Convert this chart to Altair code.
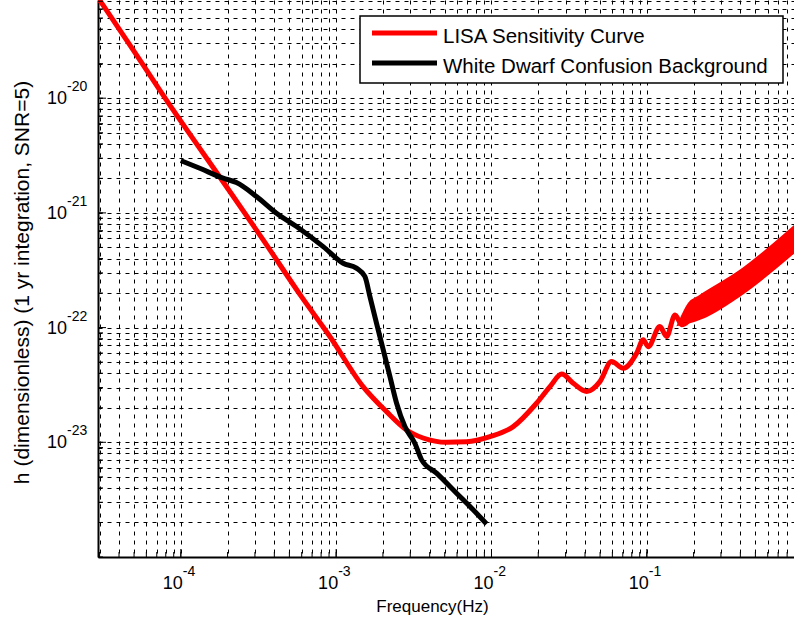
import altair as alt
import pandas as pd

FONT = "Liberation Sans"

# ---- data ----
lisa_f = [2.93e-5, 3.15e-5, 4.93e-5, 8.92e-5, 1.87e-4, 3.39e-4, 5.98e-4, 9.11e-4,
          1.49e-3, 2.11e-3, 2.84e-3, 3.63e-3, 5.14e-3, 6.92e-3, 9.77e-3, 1.38e-2,
          1.95e-2, 2.38e-2, 2.83e-2, 3.36e-2, 4.10e-2, 4.99e-2, 5.93e-2, 7.05e-2,
          8.60e-2, 9.48e-2, 0.102, 0.1214, 0.134, 0.152, 0.1676, 0.22, 0.40, 0.886]
lisa_h = [7.5e-20, 6.5e-20, 2.64e-20, 7.91e-21, 1.87e-21, 5.82e-22, 1.86e-22, 8.36e-23,
          3.06e-23, 1.85e-23, 1.28e-23, 1.09e-23, 1.0e-23, 1.01e-23, 1.12e-23, 1.37e-23,
          2.19e-23, 3.06e-23, 3.93e-23, 3.27e-23, 2.77e-23, 3.38e-23, 5.06e-23, 4.43e-23,
          5.98e-23, 7.82e-23, 6.82e-23, 1.02e-22, 8.36e-23, 1.29e-22, 1.06e-22, 1.5e-22,
          2.45e-22, 5.87e-22]

# envelope of the fast oscillations at high frequency
band_f = [0.165, 0.19, 0.22, 0.40, 0.886]
band_hi = [1.1e-22, 1.6e-22, 1.83e-22, 3.03e-22, 7.33e-22]
band_lo = [1.1e-22, 1.15e-22, 1.23e-22, 1.99e-22, 4.71e-22]

wd_f = [1.0e-4, 1.325e-4, 1.87e-4, 2.28e-4, 3.07e-4, 4.13e-4, 5.56e-4, 8.25e-4,
        1.11e-3, 1.35e-3, 1.53e-3, 1.65e-3, 1.82e-3, 2.01e-3, 2.22e-3, 2.45e-3,
        2.77e-3, 3.21e-3, 3.55e-3, 4.43e-3, 5.96e-3, 7.62e-3, 9.3e-3]
wd_h = [2.86e-21, 2.45e-21, 2.01e-21, 1.84e-21, 1.39e-21, 9.94e-22, 7.60e-22, 5.08e-22,
        3.64e-22, 3.30e-22, 2.79e-22, 1.86e-22, 1.09e-22, 6.4e-23, 3.74e-23, 2.19e-23,
        1.37e-23, 9.82e-24, 7.03e-24, 5.38e-24, 3.6e-24, 2.58e-24, 1.94e-24]

series_names = ["LISA Sensitivity Curve", "White Dwarf Confusion Background"]
series_colors = ["#ff0000", "#000000"]

x_major = [1e-4, 1e-3, 1e-2, 1e-1]
x_major_exp = ["-4", "-3", "-2", "-1"]
y_major = [1e-23, 1e-22, 1e-21, 1e-20]
y_major_exp = ["-23", "-22", "-21", "-20"]

mantissas = [1, 2, 3, 4, 5, 6, 7, 8, 9]
x_decades = [1e-5, 1e-4, 1e-3, 1e-2, 1e-1]
y_decades = [1e-24, 1e-23, 1e-22, 1e-21, 1e-20]
x_dom = [2.93e-5, 0.886]
y_dom = [1e-24, 7.18e-20]
x_grid = [m * d for d in x_decades for m in mantissas if x_dom[0] <= m * d <= x_dom[1]]
y_grid = [m * d for d in y_decades for m in mantissas if y_dom[0] <= m * d <= y_dom[1]]

W, H = 696, 557

xs = alt.Scale(type="log", domain=x_dom, nice=False)
ys = alt.Scale(type="log", domain=y_dom, nice=False)

x_axis = alt.Axis(values=x_grid, grid=True, gridColor="black", gridDash=[4, 5],
                  gridWidth=1, gridOpacity=1, labels=False, ticks=False,
                  domain=True, domainColor="black", domainWidth=2,
                  title="Frequency(Hz)", titleFont=FONT, titleFontSize=17,
                  titleFontWeight="normal", titleColor="black",
                  titleX=334, titleY=54, titleBaseline="alphabetic", titleAlign="center")
y_axis = alt.Axis(values=y_grid, grid=True, gridColor="black", gridDash=[4, 5],
                  gridWidth=1, gridOpacity=1, labels=False, ticks=False,
                  domain=True, domainColor="black", domainWidth=2,
                  title="h (dimensionless) (1 yr integration, SNR=5)", titleFont=FONT,
                  titleFontSize=21, titleFontWeight="normal", titleColor="black",
                  titleX=-70, titleY=282, titleAngle=270, titleBaseline="alphabetic",
                  titleAlign="center")


def X(field):
    return alt.X(field, type="quantitative", scale=xs, axis=x_axis)


def Y(field):
    return alt.Y(field, type="quantitative", scale=ys, axis=y_axis)


lisa_df = pd.DataFrame({"f": lisa_f, "h": lisa_h})
band_df = pd.DataFrame({"f": band_f, "h": band_hi, "lo": band_lo})
wd_df = pd.DataFrame({"f": wd_f, "h": wd_h})

lisa = alt.Chart(lisa_df).mark_line(color=series_colors[0], strokeWidth=5,
                                    interpolate="monotone", clip=True).encode(
    x=X("f"), y=Y("h"))

band = alt.Chart(band_df).mark_area(color=series_colors[0], stroke=series_colors[0],
                                    strokeWidth=5, interpolate="monotone", clip=True).encode(
    x=X("f"), y=Y("h"), y2="lo:Q")

wd = alt.Chart(wd_df).mark_line(color=series_colors[1], strokeWidth=5,
                                interpolate="monotone", clip=True).encode(
    x=X("f"), y=Y("h"))

# inward tick marks
xt_df = pd.DataFrame({"f": x_grid})
yt_df = pd.DataFrame({"h": y_grid})
xmaj_df = pd.DataFrame({"f": x_major})
ymaj_df = pd.DataFrame({"h": y_major})

xticks = alt.Chart(xt_df).mark_rule(color="black", strokeWidth=1).encode(
    x=X("f"), y=alt.value(H), y2=alt.value(H - 5))
xticks_maj = alt.Chart(xmaj_df).mark_rule(color="black", strokeWidth=1).encode(
    x=X("f"), y=alt.value(H), y2=alt.value(H - 8))
yticks = alt.Chart(yt_df).mark_rule(color="black", strokeWidth=1).encode(
    y=Y("h"), x=alt.value(0), x2=alt.value(5))
yticks_maj = alt.Chart(ymaj_df).mark_rule(color="black", strokeWidth=1).encode(
    y=Y("h"), x=alt.value(0), x2=alt.value(8))

# tick labels 10^n
xl_df = pd.DataFrame({"f": x_major, "base": ["10"] * len(x_major), "exp": x_major_exp})
yl_df = pd.DataFrame({"h": y_major, "base": ["10"] * len(y_major), "exp": y_major_exp})

xlab_base = alt.Chart(xl_df).mark_text(align="right", baseline="middle", dx=2,
                                       font=FONT, fontSize=18, color="black").encode(
    x=X("f"), y=alt.value(584), text="base:N")
xlab_exp = alt.Chart(xl_df).mark_text(align="left", baseline="middle", dx=2,
                                      font=FONT, fontSize=14, color="black").encode(
    x=X("f"), y=alt.value(572), text="exp:N")
ylab_base = alt.Chart(yl_df).mark_text(align="right", baseline="middle", dy=1,
                                       font=FONT, fontSize=18, color="black").encode(
    y=Y("h"), x=alt.value(-31), text="base:N")
ylab_exp = alt.Chart(yl_df).mark_text(align="left", baseline="middle", dy=-11,
                                      font=FONT, fontSize=14, color="black").encode(
    y=Y("h"), x=alt.value(-31), text="exp:N")

# legend box
one = pd.DataFrame({"k": [0]})
leg_box = alt.Chart(one).mark_rect(fill="white", stroke="black", strokeWidth=1.5).encode(
    x=alt.value(262), x2=alt.value(685), y=alt.value(16), y2=alt.value(83))
leg_layers = [leg_box]
for i, (name, col) in enumerate(zip(series_names, series_colors)):
    leg_layers.append(alt.Chart(one).mark_rule(strokeWidth=5).encode(
        x=alt.value(274), x2=alt.value(339), y=alt.value(33 + 30 * i), color=alt.value(col)))
    leg_layers.append(alt.Chart(one).mark_text(text=name, align="left", baseline="alphabetic",
                                               font=FONT, fontSize=20.5, color="black").encode(
        x=alt.value(345), y=alt.value(43 + 30 * i)))

chart = alt.layer(
    lisa, band, wd, xticks, xticks_maj, yticks, yticks_maj,
    xlab_base, xlab_exp, ylab_base, ylab_exp, *leg_layers
).properties(
    width=W, height=H,
    padding={"left": 98, "top": 0, "right": 0, "bottom": 69},
    autosize=alt.AutoSizeParams(type="none"),
    background="white",
).configure_view(stroke="transparent")

chart.save("out.html", embed_options={"renderer": "svg", "actions": False})
